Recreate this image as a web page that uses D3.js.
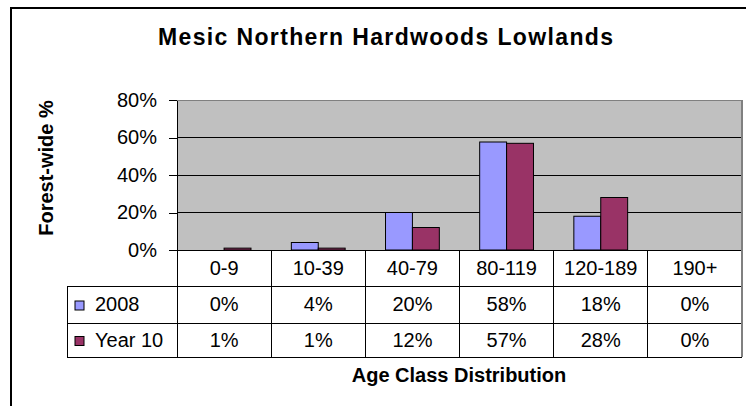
<!DOCTYPE html>
<html>
<head>
<meta charset="utf-8">
<script src="https://cdn.jsdelivr.net/npm/d3@7"></script>
<style>
  html, body { margin: 0; padding: 0; background: #fff; }
  svg { display: block; font-family: "Liberation Sans", Arial, sans-serif; }
</style>
</head>
<body>
<svg id="chart" width="746" height="406"></svg>
<script>
// ---- data ----
const categories = ["0-9", "10-39", "40-79", "80-119", "120-189", "190+"];
const seriesNames = ["2008", "Year 10"];
const values2008 = [0, 0.04, 0.20, 0.576, 0.18, 0];
const valuesYear10 = [0.01, 0.01, 0.12, 0.569, 0.28, 0];
const yTicks = [0, 0.2, 0.4, 0.6, 0.8];
const seriesColors = ["#9999FF", "#993366"];
const chartTitle = "Mesic Northern Hardwoods Lowlands";
const yTitle = "Forest-wide %";
const xTitle = "Age Class Distribution";

const seriesValues = [values2008, valuesYear10];

// ---- layout ----
const svg = d3.select("#chart");
const plotL = 177, plotR = 742, plotT = 100, plotB = 250;
const rowLines = [250, 286, 323, 357];
const legendL = 67;
const fmt = d3.format(".0%");

// outer frame
svg.append("rect")
  .attr("x", 11).attr("y", 8).attr("width", 900).attr("height", 600)
  .attr("fill", "none").attr("stroke", "#000").attr("stroke-width", 2);

// title
svg.append("text")
  .attr("x", 385.5).attr("y", 45)
  .attr("text-anchor", "middle")
  .attr("font-size", 23).attr("font-weight", "bold")
  .attr("textLength", 455).attr("lengthAdjust", "spacing")
  .text(chartTitle);

// scales
const x = d3.scaleBand().domain(categories).range([plotL, plotR]).padding(0);
const groupW = x.bandwidth() * 2 / 3.5;
const x1 = d3.scaleBand().domain(seriesNames)
  .range([(x.bandwidth() - groupW) / 2, (x.bandwidth() + groupW) / 2]).padding(0);
const y = d3.scaleLinear().domain([0, 0.8]).range([plotB, plotT]);

// plot background
svg.append("rect")
  .attr("x", plotL).attr("y", plotT)
  .attr("width", plotR - plotL).attr("height", plotB - plotT)
  .attr("fill", "#C0C0C0");

// gridlines
svg.append("g").selectAll("line")
  .data(yTicks.filter(d => d > 0 && d < 0.8))
  .join("line")
  .attr("x1", plotL).attr("x2", plotR)
  .attr("y1", d => y(d)).attr("y2", d => y(d))
  .attr("stroke", "#000").attr("stroke-width", 1)
  .attr("shape-rendering", "crispEdges");

// plot border top / right (gray)
svg.append("line")
  .attr("x1", plotL).attr("x2", plotR).attr("y1", plotT).attr("y2", plotT)
  .attr("stroke", "#808080").attr("stroke-width", 1).attr("shape-rendering", "crispEdges");

// bars
const groups = svg.append("g").selectAll("g")
  .data(categories)
  .join("g")
  .attr("transform", d => `translate(${x(d)},0)`);

groups.selectAll("rect")
  .data((c, i) => seriesNames.map((s, j) => ({ s, j, v: seriesValues[j][i] })))
  .join("rect")
  .filter(d => d.v > 0)
  .attr("x", d => x1(d.s))
  .attr("y", d => y(d.v))
  .attr("width", x1.bandwidth())
  .attr("height", d => y(0) - y(d.v))
  .attr("fill", d => seriesColors[d.j])
  .attr("stroke", "#000").attr("stroke-width", 1);

// y axis
const yAxis = d3.axisLeft(y)
  .tickValues(yTicks)
  .tickFormat(fmt)
  .tickSize(8)
  .tickSizeOuter(0)
  .tickPadding(12);
const ya = svg.append("g").attr("transform", `translate(${plotL},0)`).call(yAxis);
ya.select(".domain").attr("stroke", "#000").attr("shape-rendering", "crispEdges");
ya.selectAll(".tick line").attr("stroke", "#000").attr("shape-rendering", "crispEdges");
ya.selectAll(".tick text")
  .attr("font-size", 20)
  .attr("font-family", "'Liberation Sans', Arial, sans-serif")
  .attr("fill", "#000");

// y title
svg.append("text")
  .attr("transform", "translate(53,168) rotate(-90)")
  .attr("text-anchor", "middle")
  .attr("font-size", 20).attr("font-weight", "bold")
  .text(yTitle);

// ---- data table ----
const table = svg.append("g").attr("shape-rendering", "crispEdges");
// horizontal lines
table.append("line").attr("x1", plotL).attr("x2", plotR)
  .attr("y1", rowLines[0]).attr("y2", rowLines[0]).attr("stroke", "#000");
rowLines.slice(1).forEach(ry => {
  table.append("line").attr("x1", legendL).attr("x2", plotR)
    .attr("y1", ry).attr("y2", ry).attr("stroke", "#000");
});
// vertical lines between categories
categories.forEach(c => {
  table.append("line").attr("x1", x(c)).attr("x2", x(c))
    .attr("y1", rowLines[0]).attr("y2", rowLines[3]).attr("stroke", "#000");
});
// legend left border
table.append("line").attr("x1", legendL).attr("x2", legendL)
  .attr("y1", rowLines[1]).attr("y2", rowLines[3]).attr("stroke", "#000");
// right border (gray)
svg.append("line").attr("x1", plotR).attr("x2", plotR)
  .attr("y1", plotT).attr("y2", rowLines[3])
  .attr("stroke", "#808080").attr("stroke-width", 2);

// category labels
svg.append("g").selectAll("text")
  .data(categories)
  .join("text")
  .attr("x", d => x(d) + x.bandwidth() / 2)
  .attr("y", (rowLines[0] + rowLines[1]) / 2 + 6.5)
  .attr("text-anchor", "middle")
  .attr("font-size", 20)
  .text(d => d);

// series rows
seriesNames.forEach((s, j) => {
  const cy = (rowLines[j + 1] + rowLines[j + 2]) / 2 + 6.5;
  svg.append("rect")
    .attr("x", 75).attr("y", cy - 10).attr("width", 9).attr("height", 9)
    .attr("fill", seriesColors[j]).attr("stroke", "#000").attr("stroke-width", 1);
  svg.append("text")
    .attr("x", 95).attr("y", cy)
    .attr("font-size", 20)
    .text(s);
  svg.append("g").selectAll("text")
    .data(seriesValues[j])
    .join("text")
    .attr("x", (d, i) => x(categories[i]) + x.bandwidth() / 2)
    .attr("y", cy)
    .attr("text-anchor", "middle")
    .attr("font-size", 20)
    .text(d => fmt(d));
});

// x title
svg.append("text")
  .attr("x", 459).attr("y", 382)
  .attr("text-anchor", "middle")
  .attr("font-size", 20).attr("font-weight", "bold")
  .text(xTitle);
</script>
</body>
</html>
